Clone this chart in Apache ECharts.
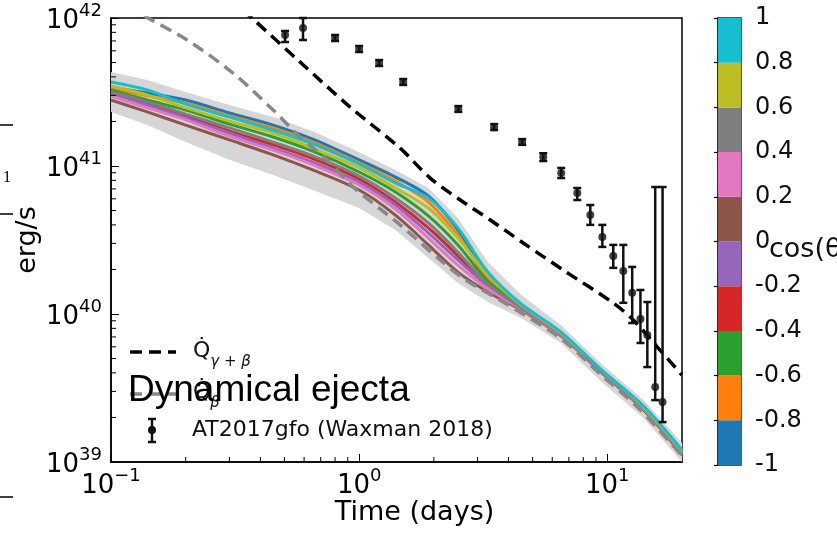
<!DOCTYPE html>
<html><head><meta charset="utf-8">
<script src="https://cdn.jsdelivr.net/npm/echarts@6/dist/echarts.min.js"></script>
<style>html,body{margin:0;padding:0;background:#fff}#c{width:837px;height:533px}</style>
</head><body><div id="c"></div>
<script>
// ---------- data (luminosities in units of 1e40 erg/s, times in days) ----------
const times = [0.1, 0.14, 0.2, 0.3, 0.45, 0.65, 1.0, 1.4, 1.9, 2.5, 3.3, 4.5, 6.5, 9.5, 14, 20];
const lumBlue   = [34.2, 31.1, 27.9, 22.8, 18.9, 15.2, 11.0, 8.42, 6.27, 3.70, 1.78, 1.150, 0.744, 0.412, 0.235, 0.1187];
const lumOrange = [33.7, 29.7, 26.6, 21.8, 18.1, 14.5, 10.5, 7.92, 5.71, 3.42, 1.75, 1.132, 0.744, 0.412, 0.235, 0.1169];
const lumGreen  = [32.6, 27.9, 23.9, 19.2, 15.7, 12.6, 9.11, 6.67, 4.60, 2.93, 1.67, 1.115, 0.733, 0.412, 0.231, 0.1169];
const lumRed    = [31.1, 26.6, 21.8, 17.2, 13.9, 11.2, 8.17, 5.71, 3.82, 2.47, 1.52, 1.081, 0.722, 0.405, 0.228, 0.1133];
const lumPurple = [30.2, 25.8, 21.1, 16.7, 13.2, 10.6, 7.79, 5.45, 3.53, 2.32, 1.55, 1.098, 0.722, 0.405, 0.228, 0.1151];
const lumBrown  = [27.9, 23.2, 18.9, 15.0, 11.9, 9.40, 6.88, 4.66, 2.93, 1.92, 1.41, 1.064, 0.711, 0.399, 0.2246, 0.1116];
const lumPink   = [29.7, 24.7, 20.5, 15.9, 12.8, 10.2, 7.44, 5.12, 3.26, 2.14, 1.48, 1.081, 0.722, 0.399, 0.228, 0.1133];
const lumGray   = [31.6, 27.1, 22.4, 18.1, 14.5, 11.7, 8.56, 6.08, 4.12, 2.62, 1.59, 1.098, 0.733, 0.405, 0.231, 0.1151];
const lumOlive  = [34.7, 30.2, 24.7, 20.1, 16.7, 13.2, 9.70, 7.10, 5.20, 3.26, 1.83, 1.150, 0.744, 0.418, 0.235, 0.1187];
const lumCyan   = [36.9, 32.6, 26.2, 21.4, 17.5, 14.1, 10.3, 7.67, 6.08, 3.82, 1.92, 1.168, 0.756, 0.418, 0.239, 0.1206];

const bandTimes = [0.1, 0.14, 0.2, 0.3, 0.45, 0.65, 1.0, 1.4, 1.9, 2.5, 3.3, 4.5, 6.5, 9.5, 14, 20];
const bandUpper = [43.2, 38.1, 31.6, 25.8, 21.4, 17.2, 12.4, 9.40, 7.10, 4.46, 2.25, 1.344, 0.843, 0.459, 0.262, 0.1345];
const bandLower = [23.2, 18.9, 14.5, 11.0, 8.69, 6.88, 5.20, 3.70, 2.39, 1.62, 1.205, 0.940, 0.637, 0.347, 0.198, 0.100];

const qBetaTimes = [0.1, 0.141, 0.2025, 0.310, 0.450, 0.578, 0.743, 0.946, 1.463, 2.12, 2.68, 3.70, 6.46, 9.37, 13.6, 20];
const qBetaLum   = [139, 100, 71.0, 42.5, 23.9, 15.7, 11.0, 7.21, 4.00, 2.32, 1.70, 1.24, 0.688, 0.393, 0.2246, 0.110];

const qTotTimes = [0.30, 0.370, 0.578, 0.920, 1.463, 1.933, 2.555, 3.375, 4.585, 6.646, 10.57, 12.73, 15.91, 20];
const qTotLum   = [139, 100, 50.4, 25.0, 13.2, 8.29, 5.89, 4.32, 3.02, 1.98, 1.186, 0.911, 0.598, 0.387];

const obsTimes = [0.503, 0.594, 0.80, 1.0, 1.204, 1.505, 2.51, 3.50, 4.54, 5.52, 6.52, 7.57, 8.54, 9.55, 10.57, 11.6, 12.6, 13.6, 14.5, 15.6, 16.7];
const obsLum   = [76.8, 85.6, 73.2, 61.7, 49.7, 37.0, 24.3, 18.3, 14.5, 11.5, 8.97, 6.57, 4.67, 3.31, 2.47, 1.95, 1.39, 0.925, 0.722, 0.321, 0.254];
const obsLow   = [68.8, 71.0, 69.9, 58.9, 47.4, 35.3, 23.2, 17.5, 13.9, 10.8, 8.29, 5.89, 4.00, 2.84, 2.05, 1.19, 0.869, 0.637, 0.438, 0.262, 0.186];
const obsHigh  = [81.7, 100, 76.8, 64.7, 52.0, 38.7, 25.4, 19.2, 15.2, 12.2, 9.70, 7.10, 5.45, 4.00, 2.93, 2.93, 2.08, 1.453, 1.205, 7.21, 7.21];

const cbBounds = [-1, -0.8, -0.6, -0.4, -0.2, 0, 0.2, 0.4, 0.6, 0.8, 1];
const cbColors = ['#1f77b4', '#ff7f0e', '#2ca02c', '#d62728', '#9467bd', '#8c564b', '#e377c2', '#7f7f7f', '#bcbd22', '#17becf'];

const xMinorTicks = [0.2, 0.3, 0.4, 0.5, 0.6, 0.7, 0.8, 0.9, 2, 3, 4, 5, 6, 7, 8, 9];
const yMinorMant = [2, 3, 4, 5, 6, 7, 8, 9];
const yDecades = [1e39, 1e40, 1e41];

// ---------- chart ----------
const E40 = 1e40;
const FONT = 'DejaVu Sans';
const chart = echarts.init(document.getElementById('c'), null, {renderer: 'canvas'});

const lineSets = [
  ['-1 to -0.8', cbColors[0], lumBlue],
  ['-0.8 to -0.6', cbColors[1], lumOrange],
  ['-0.6 to -0.4', cbColors[2], lumGreen],
  ['-0.4 to -0.2', cbColors[3], lumRed],
  ['-0.2 to 0', cbColors[4], lumPurple],
  ['0 to 0.2', cbColors[5], lumBrown],
  ['0.2 to 0.4', cbColors[6], lumPink],
  ['0.4 to 0.6', cbColors[7], lumGray],
  ['0.6 to 0.8', cbColors[8], lumOlive],
  ['0.8 to 1', cbColors[9], lumCyan]
];

const powRich = {
  b: {fontFamily: FONT, fontSize: 26, color: '#000', lineHeight: 32, verticalAlign: 'bottom'},
  s: {fontFamily: FONT, fontSize: 18, color: '#000', lineHeight: 20, verticalAlign: 'top'}
};
function powLabel(v) {
  const l = Math.log10(v);
  const e = Math.round(l);
  if (Math.abs(l - e) > 1e-6) return '';
  return '{b|10}{s|' + (e < 0 ? '\u2212' + (-e) : e) + '}';
}

const tickData = [];
xMinorTicks.forEach(v => tickData.push([v, 1e39, 0]));
yDecades.forEach(d => yMinorMant.forEach(m => tickData.push([0.1, m * d, 1])));

const series = [];
// grey band
series.push({
  type: 'custom', xAxisIndex: 0, yAxisIndex: 0, clip: true, z: 1, silent: true,
  data: bandTimes.map((t, i) => [t, bandUpper[i] * E40, bandLower[i] * E40]),
  encode: {x: 0, y: [1, 2]},
  renderItem(params, api) {
    if (params.dataIndex !== 0) return null;
    const pts = [];
    for (let i = 0; i < bandTimes.length; i++) pts.push(api.coord([bandTimes[i], bandUpper[i] * E40]));
    for (let i = bandTimes.length - 1; i >= 0; i--) pts.push(api.coord([bandTimes[i], bandLower[i] * E40]));
    return {type: 'polygon', shape: {points: pts}, style: {fill: '#d6d6d6'}};
  }
});
lineSets.forEach(([name, color, arr]) => {
  series.push({
    type: 'line', name: name, xAxisIndex: 0, yAxisIndex: 0, z: 3, silent: true,
    showSymbol: false, smooth: 0.3, clip: true,
    lineStyle: {color: color, width: 3},
    data: times.map((t, i) => [t, arr[i] * E40])
  });
});
series.push({
  type: 'line', name: 'Qbeta', xAxisIndex: 0, yAxisIndex: 0, z: 4, silent: true,
  showSymbol: false, smooth: 0.3, clip: true,
  lineStyle: {color: '#888888', width: 3.5, type: [12, 7]},
  data: qBetaTimes.map((t, i) => [t, qBetaLum[i] * E40])
});
series.push({
  type: 'line', name: 'Qtot', xAxisIndex: 0, yAxisIndex: 0, z: 4, silent: true,
  showSymbol: false, smooth: 0.3, clip: true,
  lineStyle: {color: '#000', width: 3.5, type: [12, 7]},
  data: qTotTimes.map((t, i) => [t, qTotLum[i] * E40])
});
// error bars
series.push({
  type: 'custom', xAxisIndex: 0, yAxisIndex: 0, clip: false, z: 5, silent: true,
  data: obsTimes.map((t, i) => [t, obsLum[i] * E40, obsLow[i] * E40, obsHigh[i] * E40]),
  encode: {x: 0, y: [1, 2, 3]},
  renderItem(params, api) {
    const t = api.value(0);
    const hi = api.coord([t, api.value(3)]);
    const lo = api.coord([t, api.value(2)]);
    const w = 4, st = {stroke: '#111', lineWidth: 2.5};
    return {type: 'group', children: [
      {type: 'line', shape: {x1: hi[0], y1: hi[1], x2: lo[0], y2: lo[1]}, style: st},
      {type: 'line', shape: {x1: hi[0] - w, y1: hi[1], x2: hi[0] + w, y2: hi[1]}, style: st},
      {type: 'line', shape: {x1: lo[0] - w, y1: lo[1], x2: lo[0] + w, y2: lo[1]}, style: st}
    ]};
  }
});
series.push({
  type: 'scatter', name: 'AT2017gfo', xAxisIndex: 0, yAxisIndex: 0, z: 6, silent: true,
  symbolSize: 8, itemStyle: {color: '#111'},
  data: obsTimes.map((t, i) => [t, obsLum[i] * E40])
});
// minor ticks
series.push({
  type: 'custom', xAxisIndex: 0, yAxisIndex: 0, clip: false, z: 7, silent: true,
  data: tickData, encode: {x: 0, y: 1},
  renderItem(params, api) {
    const kind = api.value(2);
    const st = {stroke: '#000', lineWidth: 1};
    if (kind === 0) {
      const p = api.coord([api.value(0), 1e39]);
      return {type: 'line', shape: {x1: p[0], y1: p[1], x2: p[0], y2: p[1] - 5}, style: st};
    }
    const p = api.coord([0.1, api.value(1)]);
    return {type: 'line', shape: {x1: p[0], y1: p[1], x2: p[0] + 5, y2: p[1]}, style: st};
  }
});
// colorbar
series.push({
  type: 'custom', xAxisIndex: 1, yAxisIndex: 1, clip: false, z: 2, silent: true,
  data: cbColors.map((c, i) => [0, cbBounds[i], cbBounds[i + 1]]),
  encode: {x: 0, y: [1, 2]},
  renderItem(params, api) {
    const p0 = api.coord([0, api.value(1)]);
    const p1 = api.coord([1, api.value(2)]);
    return {type: 'rect', shape: {x: p0[0], y: p1[1], width: p1[0] - p0[0], height: p0[1] - p1[1]},
      style: {fill: cbColors[params.dataIndex]}};
  }
});

const option = {
  backgroundColor: '#fff',
  animation: false,
  grid: [
    {left: 111, top: 18, width: 571, height: 444, show: true, borderColor: '#000', borderWidth: 1.5, backgroundColor: 'transparent'},
    {left: 718, top: 18, width: 23, height: 447, show: true, borderColor: '#222', borderWidth: 1.5, backgroundColor: 'transparent'}
  ],
  xAxis: [
    {type: 'log', gridIndex: 0, min: 0.1, max: 20, logBase: 10,
     name: 'Time (days)', nameLocation: 'middle', nameGap: 37, nameMoveOverlap: false,
     nameTextStyle: {fontFamily: FONT, fontSize: 27, color: '#000', padding: [0, 0, 0, 36]},
     axisLine: {lineStyle: {color: '#000', width: 1.5}},
     axisTick: {inside: true, length: 8, lineStyle: {color: '#000', width: 1}},
     splitLine: {show: false},
     axisLabel: {formatter: powLabel, rich: powRich, margin: 5, showMaxLabel: false}},
    {type: 'value', gridIndex: 1, min: 0, max: 1, show: false}
  ],
  yAxis: [
    {type: 'log', gridIndex: 0, min: 1e39, max: 1e42, logBase: 10,
     name: 'erg/s', nameLocation: 'middle', nameGap: 70, nameMoveOverlap: false,
     nameTextStyle: {fontFamily: FONT, fontSize: 27, color: '#000'},
     axisLine: {lineStyle: {color: '#000', width: 1.5}},
     axisTick: {inside: true, length: 8, lineStyle: {color: '#000', width: 1}},
     splitLine: {show: false},
     axisLabel: {formatter: powLabel, rich: powRich, margin: 9}},
    {type: 'value', gridIndex: 1, min: -1, max: 1, interval: 0.2, position: 'right',
     axisLine: {show: true, lineStyle: {color: '#222', width: 1.5}},
     axisTick: {show: true, inside: true, length: 4, lineStyle: {color: '#000', width: 1.2}},
     splitLine: {show: false},
     axisLabel: {margin: 14, fontFamily: FONT, fontSize: 24, color: '#111',
       formatter: v => Math.abs(v) < 1e-9 ? '0' : String(+v.toFixed(1))}}
  ],
  series: series,
  graphic: [
    // cropped fragments of a neighbouring panel on the left edge
    {type: 'line', shape: {x1: 0, y1: 125, x2: 13, y2: 125}, style: {stroke: '#000', lineWidth: 1.5}},
    {type: 'line', shape: {x1: 0, y1: 214, x2: 13, y2: 214}, style: {stroke: '#000', lineWidth: 1.5}},
    {type: 'line', shape: {x1: 0, y1: 497, x2: 13, y2: 497}, style: {stroke: '#000', lineWidth: 1.5}},
    {type: 'text', x: 3, y: 178, style: {text: '1', font: '16px "Liberation Serif"', fill: '#000', verticalAlign: 'middle'}},
    // colorbar label
    {type: 'text', x: 769, y: 250, style: {text: 'cos(\u03b8)', font: '27px "DejaVu Sans"', fill: '#111', verticalAlign: 'middle'}},
    // legend
    {type: 'line', shape: {x1: 130, y1: 352, x2: 176, y2: 352}, style: {stroke: '#000', lineWidth: 3.5, lineDash: [12, 7]}, z: 20},
    {type: 'text', x: 193, y: 340, z: 20, style: {text: '{q|Q\u0307}{s|\u03b3 + \u03b2}', rich: {
      q: {fontFamily: FONT, fontSize: 22, fill: '#111', lineHeight: 30, verticalAlign: 'top'},
      s: {fontFamily: FONT, fontSize: 15, fontStyle: 'italic', fill: '#111', lineHeight: 16, verticalAlign: 'bottom'}}}},
    {type: 'line', shape: {x1: 130, y1: 394, x2: 176, y2: 394}, style: {stroke: '#888', lineWidth: 3.5, lineDash: [12, 7]}, z: 20},
    {type: 'text', x: 193, y: 381, z: 20, style: {text: '{q|Q\u0307}{s|\u03b2}', rich: {
      q: {fontFamily: FONT, fontSize: 22, fill: '#111', lineHeight: 30, verticalAlign: 'top'},
      s: {fontFamily: FONT, fontSize: 15, fontStyle: 'italic', fill: '#111', lineHeight: 16, verticalAlign: 'bottom'}}}},
    {type: 'line', shape: {x1: 152, y1: 419, x2: 152, y2: 442}, style: {stroke: '#111', lineWidth: 2.5}, z: 20},
    {type: 'line', shape: {x1: 148, y1: 419, x2: 156, y2: 419}, style: {stroke: '#111', lineWidth: 2.5}, z: 20},
    {type: 'line', shape: {x1: 148, y1: 442, x2: 156, y2: 442}, style: {stroke: '#111', lineWidth: 2.5}, z: 20},
    {type: 'circle', shape: {cx: 152, cy: 430, r: 4}, style: {fill: '#111'}, z: 20},
    {type: 'text', x: 192, y: 430, z: 20, style: {text: 'AT2017gfo (Waxman 2018)', font: '22px "DejaVu Sans"', fill: '#111', verticalAlign: 'middle'}},
    {type: 'text', x: 128, y: 391, z: 30, style: {text: 'Dynamical ejecta', font: '37px "Liberation Sans"', fill: '#000', verticalAlign: 'middle'}}
  ]
};
chart.setOption(option);
</script></body></html>
